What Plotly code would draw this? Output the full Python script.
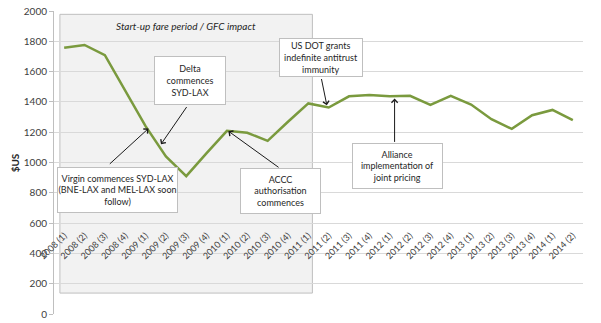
import plotly.graph_objects as go

# Quarterly average fares, 2008 Q1 to 2014 Q2
quarters = [
    "2008 (1)", "2008 (2)", "2008 (3)", "2008 (4)",
    "2009 (1)", "2009 (2)", "2009 (3)", "2009 (4)",
    "2010 (1)", "2010 (2)", "2010 (3)", "2010 (4)",
    "2011 (1)", "2011 (2)", "2011 (3)", "2011 (4)",
    "2012 (1)", "2012 (2)", "2012 (3)", "2012 (4)",
    "2013 (1)", "2013 (2)", "2013 (3)", "2013 (4)",
    "2014 (1)", "2014 (2)",
]
fares = [
    1757, 1776, 1708, 1470,
    1240, 1040, 910, 1062,
    1209, 1196, 1143, 1269,
    1390, 1363, 1437, 1446,
    1437, 1440, 1380, 1440,
    1383, 1286, 1222, 1312,
    1347, 1279,
]

y_ticks = list(range(0, 2001, 200))

# Event call-outs: (text, box centre x/y, box w/h in px, arrow tail x/y, arrow head x/y)
events = [
    ("Delta<br>commences<br>SYD-LAX", 6.19, 1543, 70, 47, 6.07, 1376, 4.76, 1121),
    ("Virgin commences SYD-LAX<br>(BNE-LAX and MEL-LAX soon<br>follow)", 2.6, 818, 119, 44, 2.17, 982, 4.14, 1224),
    ("ACCC<br>authorisation<br>commences", 10.63, 811, 79, 44, 10.61, 961, 8.07, 1207),
    ("US DOT grants<br>indefinite antitrust<br>immunity", 12.63, 1690, 82, 37, 12.63, 1561, 12.91, 1378),
    ("Alliance<br>implementation of<br>joint pricing", 16.39, 974, 89, 44, 16.24, 1126, 16.24, 1422),
]

FONT = "Lato"
TEXT = "#262626"

fig = go.Figure()

fig.add_trace(go.Scatter(
    x=quarters, y=fares, mode="lines",
    line=dict(color="#7a9a3e", width=2.5),
    hoverinfo="skip", showlegend=False,
))

# Shaded start-up / GFC period
fig.add_shape(
    type="rect", xref="x", yref="y",
    x0=-0.21, x1=12.2, y0=138, y1=1978,
    fillcolor="#f2f2f2", line=dict(color="#bfbfbf", width=1),
    layer="below",
)

annotations = [
    dict(text="<i>Start-up fare period / GFC impact</i>", x=5.99, y=1899,
         xref="x", yref="y", showarrow=False,
         font=dict(family=FONT, size=10, color=TEXT)),
    dict(text="<b>$US</b>", x=-0.074, y=0.5, xref="paper", yref="paper",
         xanchor="center", yanchor="middle",
         textangle=-90, showarrow=False,
         font=dict(family=FONT, size=10, color=TEXT)),
]

for text, cx, cy, w, h, tx, ty, hx, hy in events:
    annotations.append(dict(
        text=text, x=cx, y=cy, xref="x", yref="y", showarrow=False,
        width=w, height=h, align="center", valign="middle",
        bgcolor="white", bordercolor="#bfbfbf", borderwidth=1, borderpad=0,
        font=dict(family=FONT, size=9, color=TEXT),
    ))
    annotations.append(dict(
        text="", x=hx, y=hy, ax=tx, ay=ty, xref="x", yref="y",
        axref="x", ayref="y", showarrow=True,
        arrowhead=4, arrowsize=1.2, arrowwidth=1, arrowcolor="#1a1a1a",
        standoff=0, startstandoff=0,
    ))

fig.update_layout(
    width=601, height=323,
    margin=dict(l=54, r=18, t=11, b=9, autoexpand=False),
    plot_bgcolor="white", paper_bgcolor="white",
    annotations=annotations,
    xaxis=dict(
        type="category", categoryorder="array", categoryarray=quarters,
        range=[-0.5, len(quarters) - 0.5],
        anchor="free", position=0.285, automargin=False,
        showgrid=False, showline=False, zeroline=False, ticks="",
        tickangle=-45,
        tickfont=dict(family=FONT, size=9, color="#404040"),
    ),
    yaxis=dict(
        range=[0, 2000], tickvals=y_ticks, automargin=False,
        showgrid=True, gridcolor="#d9d9d9", gridwidth=1,
        showline=True, linecolor="#bfbfbf", linewidth=1,
        ticks="outside", ticklen=4, tickcolor="#bfbfbf",
        zeroline=False,
        tickfont=dict(family=FONT, size=10, color="#404040"),
    ),
)

fig.write_html("out.html")
